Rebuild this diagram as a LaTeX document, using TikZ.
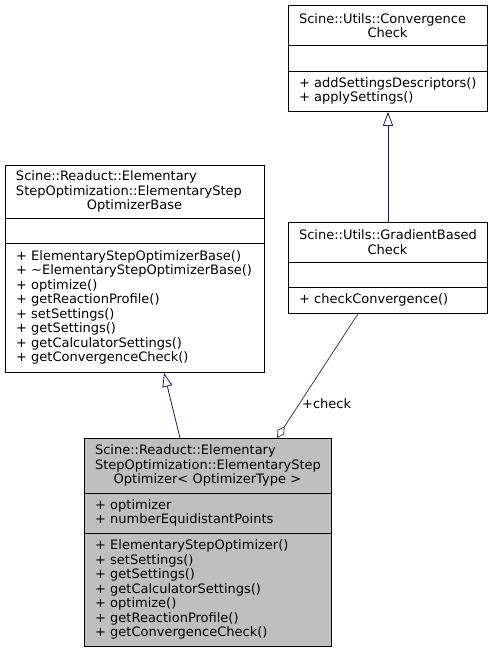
\documentclass[tikz,border=0pt]{standalone}
\usepackage{fontspec}
\setmainfont{DejaVu Sans}
\usetikzlibrary{arrows.meta,calc}
\definecolor{inhcol}{HTML}{191970}
\definecolor{usecol}{HTML}{404040}
\definecolor{focuscol}{HTML}{BFBFBF}
\newcommand{\ctrline}[1]{\makebox[\hsize][c]{#1}}
\tikzset{
  classbox/.style={draw=black, line width=0.8pt, inner sep=0, anchor=north west, fill=white},
  sepline/.style={draw=black, line width=0.8pt},
  ttl/.style={align=left, font=\fontsize{13}{14.5}\selectfont, inner sep=0},
  mem/.style={align=left, anchor=west, font=\fontsize{13}{14.5}\selectfont, inner sep=0},
  inherit/.style={draw=inhcol, line width=0.8pt, -{Triangle[open, length=14pt, width=10pt, fill=white]}},
  aggr/.style={draw=usecol, line width=0.8pt, {Diamond[open, length=14pt, width=8pt, fill=white]}-},
  lbl/.style={font=\fontsize{13}{14.5}\selectfont, inner sep=0, anchor=west}
}
\begin{document}
\begin{tikzpicture}[x=1pt,y=-1pt]
\useasboundingbox (0,0) rectangle (492,653);

% Box A: Scine::Utils::ConvergenceCheck
\node[classbox, minimum width=199pt, minimum height=106pt] (A) at (288,5) {};
\draw[sepline] (288,45.5) -- (487,45.5);
\draw[sepline] (288,71) -- (487,71);
\node[ttl, text width=177pt] (Atitle) at (387.5,25.5) {Scine::Utils::Convergence\\\ctrline{Check}};
\node[mem] (Amem) at (299,91) {+ addSettingsDescriptors()\\+ applySettings()};

% Box B: Scine::Utils::GradientBasedCheck
\node[classbox, minimum width=199pt, minimum height=91pt] (B) at (288,222) {};
\draw[sepline] (288,262) -- (487,262);
\draw[sepline] (288,287) -- (487,287);
\node[ttl, text width=177pt] (Btitle) at (387.5,242) {Scine::Utils::GradientBased\\\ctrline{Check}};
\node[mem] (Bmem) at (299,300) {+ checkConvergence()};

% Box C: ElementaryStepOptimizerBase
\node[classbox, minimum width=259pt, minimum height=207pt] (C) at (5,165) {};
\draw[sepline] (5,218) -- (264,218);
\draw[sepline] (5,243) -- (264,243);
\node[ttl, text width=237pt] (Ctitle) at (134.5,191.5) {Scine::Readuct::Elementary\\StepOptimization::ElementaryStep\\\ctrline{OptimizerBase}};
\node[mem] (Cmem) at (16,307.5) {+ ElementaryStepOptimizerBase()\\+ \char`\~ElementaryStepOptimizerBase()\\+ optimize()\\+ getReactionProfile()\\+ setSettings()\\+ getSettings()\\+ getCalculatorSettings()\\+ getConvergenceCheck()};

% Box D: ElementaryStepOptimizer< OptimizerType >
\node[classbox, fill=focuscol, minimum width=247pt, minimum height=208pt] (D) at (84,438) {};
\draw[sepline] (84,493) -- (331,493);
\draw[sepline] (84,533) -- (331,533);
\node[ttl, text width=225pt] (Dtitle) at (207.5,465.5) {Scine::Readuct::Elementary\\StepOptimization::ElementaryStep\\\ctrline{Optimizer< OptimizerType >}};
\node[mem] (Dattr) at (95,513) {+ optimizer\\+ numberEquidistantPoints};
\node[mem] (Dmem) at (95,589.5) {+ ElementaryStepOptimizer()\\+ setSettings()\\+ getSettings()\\+ getCalculatorSettings()\\+ optimize()\\+ getReactionProfile()\\+ getConvergenceCheck()};

% connectors
\path (B.north west) ++(100,0) coordinate (Btop);
\path (A.south west) ++(100,0) coordinate (Abot);
\draw[inherit] (Btop) -- (Abot);

\path (D.north west) ++(96,0) coordinate (DtopL);
\path (C.south west) ++(159,0) coordinate (Cbot);
\draw[inherit] (DtopL) -- (Cbot);

\path (B.south west) ++(70,0) coordinate (Bbot);
\path (D.north west) ++(193,0) coordinate (DtopR);
\draw[aggr] (DtopR) -- (Bbot);
\node[lbl] (chk) at (302,404) {+check};
\end{tikzpicture}
\end{document}
